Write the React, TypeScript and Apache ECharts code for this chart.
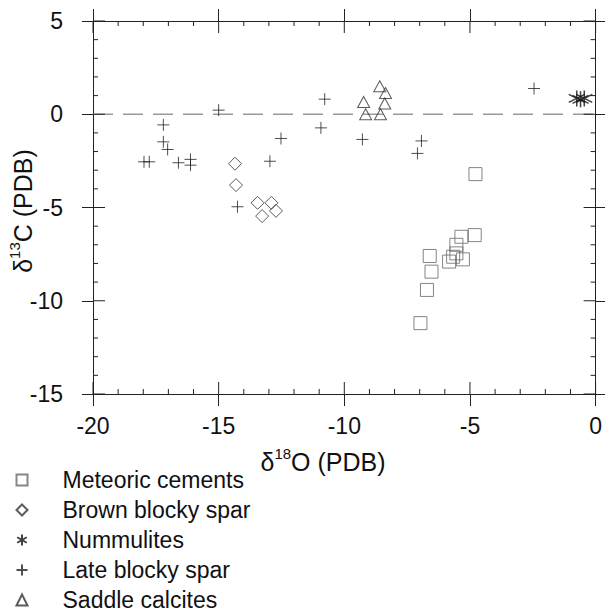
import React, { useEffect, useRef } from "react";
import * as echarts from "echarts";

const meteoricCements: number[][] = [
  [-4.78, -3.21], [-4.81, -6.48], [-5.34, -6.57], [-5.54, -7.0], [-5.54, -7.46],
  [-5.28, -7.78], [-5.67, -7.64], [-5.83, -7.9], [-6.6, -7.6], [-6.53, -8.44],
  [-6.71, -9.42], [-6.97, -11.2],
];
const brownBlockySpar: number[][] = [
  [-14.35, -2.65], [-14.31, -3.8], [-13.45, -4.75], [-12.9, -4.75], [-13.27, -5.46], [-12.72, -5.18],
];
const nummulites: number[][] = [[-0.75, 0.85], [-0.6, 0.8], [-0.45, 0.85]];
const lateBlockySpar: number[][] = [
  [-15.0, 0.22], [-17.2, -0.57], [-17.2, -1.48], [-17.03, -1.89], [-17.97, -2.55], [-17.76, -2.55],
  [-16.6, -2.6], [-16.12, -2.42], [-16.12, -2.73], [-12.52, -1.3], [-12.96, -2.52], [-14.25, -4.96],
  [-10.78, 0.81], [-10.93, -0.73], [-9.28, -1.35], [-6.93, -1.43], [-7.09, -2.1], [-2.45, 1.38],
];
const saddleCalcites: number[][] = [
  [-8.59, 1.5], [-8.36, 1.14], [-9.23, 0.66], [-8.39, 0.58], [-9.15, 0.0], [-8.56, 0.0],
];
const zeroLine: number[][] = [[-20, 0], [0, 0]];
const seriesNames = ["Meteoric cements", "Brown blocky spar", "Nummulites", "Late blocky spar", "Saddle calcites"];
// inner tick positions (every unit; multiples of 5 are major)
const xTickValues = [-20, -19, -18, -17, -16, -15, -14, -13, -12, -11, -10, -9, -8, -7, -6, -5, -4, -3, -2, -1, 0];
const yTickValues = [-15, -14, -13, -12, -11, -10, -9, -8, -7, -6, -5, -4, -3, -2, -1, 0, 1, 2, 3, 4, 5];

const FONT = "'Liberation Sans', Arial, Helvetica, sans-serif";
const AX = "#222";
const X_MIN = -20, X_MAX = 0, Y_MIN = -15, Y_MAX = 5;

export default function App() {
  const ref = useRef<HTMLDivElement>(null);
  useEffect(() => {
    if (!ref.current) return;
    const chart = echarts.init(ref.current, undefined, { renderer: "svg" });
    const line = { show: true, onZero: false, lineStyle: { color: AX, width: 1 } };
    const hidden = { show: false };
    const tick = (length: number) => ({ show: true, inside: false, length, lineStyle: { color: AX, width: 1 } });
    const starPath = "path://M0,-1 L0,1 M-0.87,-0.5 L0.87,0.5 M-0.87,0.5 L0.87,-0.5";
    const crossPath = "path://M0,-1 L0,1 M-1,0 L1,0";
    const xLabel = { show: true, margin: 20, fontSize: 23, color: "#111", fontFamily: FONT };
    const yLabel = { show: true, margin: 30, fontSize: 23, color: "#111", fontFamily: FONT };
    const tickLen = (v: number) => (v % 5 === 0 ? 12 : 5);
    const ls = { stroke: AX, lineWidth: 1 };
    const option: any = {
      animation: false,
      grid: { left: 93, right: 9, top: 21, bottom: 221, containLabel: false },
      xAxis: [
        { type: "value", min: X_MIN, max: X_MAX, interval: 5, position: "bottom", splitLine: hidden,
          axisLine: line, axisTick: tick(12), axisLabel: xLabel },
        { type: "value", min: X_MIN, max: X_MAX, interval: 5, position: "top", splitLine: hidden,
          axisLine: line, axisTick: tick(12), axisLabel: hidden },
      ],
      yAxis: [
        { type: "value", min: Y_MIN, max: Y_MAX, interval: 5, position: "left", splitLine: hidden,
          axisLine: line, axisTick: tick(11), axisLabel: yLabel },
        { type: "value", min: Y_MIN, max: Y_MAX, interval: 5, position: "right", splitLine: hidden,
          axisLine: line, axisTick: tick(10), axisLabel: hidden },
      ],
      legend: {
        data: seriesNames,
        orient: "vertical",
        left: 14,
        top: 465,
        height: 220,
        padding: 0,
        itemGap: 0,
        itemWidth: 11,
        itemHeight: 11,
        selectedMode: false,
        textStyle: { fontSize: 23, fontFamily: FONT, color: "#111", lineHeight: 30, padding: [0, 0, 0, 30] },
      },
      graphic: [
        {
          type: "text", x: 323, y: 460,
          style: {
            text: "{a|δ}{b|18}{a|O (PDB)}", align: "center", verticalAlign: "middle",
            rich: {
              a: { fontSize: 25, fontFamily: FONT, fill: "#111", lineHeight: 28, verticalAlign: "bottom" },
              b: { fontSize: 15, fontFamily: FONT, fill: "#111", lineHeight: 18, verticalAlign: "top" },
            },
          },
        },
        {
          type: "text", x: 21, y: 211, rotation: Math.PI / 2,
          style: {
            text: "{a|δ}{b|13}{a|C (PDB)}", align: "center", verticalAlign: "middle",
            rich: {
              a: { fontSize: 25, fontFamily: FONT, fill: "#111", lineHeight: 28, verticalAlign: "bottom" },
              b: { fontSize: 15, fontFamily: FONT, fill: "#111", lineHeight: 18, verticalAlign: "top" },
            },
          },
        },
      ],
      series: [
        {
          type: "custom", silent: true, clip: false, z: 5,
          data: xTickValues.map((v) => [v, Y_MIN]),
          renderItem: (_p: any, api: any) => {
            const v = api.value(0);
            const b = api.coord([v, Y_MIN]);
            const t = api.coord([v, Y_MAX]);
            const len = tickLen(v);
            return {
              type: "group",
              children: [
                { type: "line", shape: { x1: b[0], y1: b[1], x2: b[0], y2: b[1] - len }, style: ls },
                { type: "line", shape: { x1: t[0], y1: t[1], x2: t[0], y2: t[1] + len }, style: ls },
              ],
            };
          },
        },
        {
          type: "custom", silent: true, clip: false, z: 5,
          data: yTickValues.map((v) => [X_MIN, v]),
          renderItem: (_p: any, api: any) => {
            const v = api.value(1);
            const l = api.coord([X_MIN, v]);
            const r = api.coord([X_MAX, v]);
            const len = tickLen(v);
            return {
              type: "group",
              children: [
                { type: "line", shape: { x1: l[0], y1: l[1], x2: l[0] + len, y2: l[1] }, style: ls },
                { type: "line", shape: { x1: r[0], y1: r[1], x2: r[0] - len, y2: r[1] }, style: ls },
              ],
            };
          },
        },
        { type: "line", data: zeroLine, symbol: "none", silent: true,
          lineStyle: { color: "#999", width: 1.5, type: [20, 10] }, z: 1 },
        { name: seriesNames[0], type: "scatter", data: meteoricCements, symbol: "rect", symbolSize: 13,
          itemStyle: { color: "none", borderColor: "#666", borderWidth: 1 } },
        { name: seriesNames[1], type: "scatter", data: brownBlockySpar, symbol: "diamond", symbolSize: 13,
          itemStyle: { color: "none", borderColor: "#333", borderWidth: 1 } },
        { name: seriesNames[2], type: "scatter", data: nummulites, symbol: starPath, symbolSize: 16,
          itemStyle: { color: "none", borderColor: "#111", borderWidth: 1.5 } },
        { name: seriesNames[3], type: "scatter", data: lateBlockySpar, symbol: crossPath, symbolSize: 12,
          itemStyle: { color: "none", borderColor: "#222", borderWidth: 1 } },
        { name: seriesNames[4], type: "scatter", data: saddleCalcites, symbol: "triangle", symbolSize: [12, 11],
          itemStyle: { color: "none", borderColor: "#333", borderWidth: 1 } },
      ],
    };
    chart.setOption(option);
    return () => chart.dispose();
  }, []);
  return (
    <div
      ref={ref}
      style={{ position: "fixed", left: 0, top: 0, width: 605, height: 615, background: "#fff" }}
    />
  );
}
